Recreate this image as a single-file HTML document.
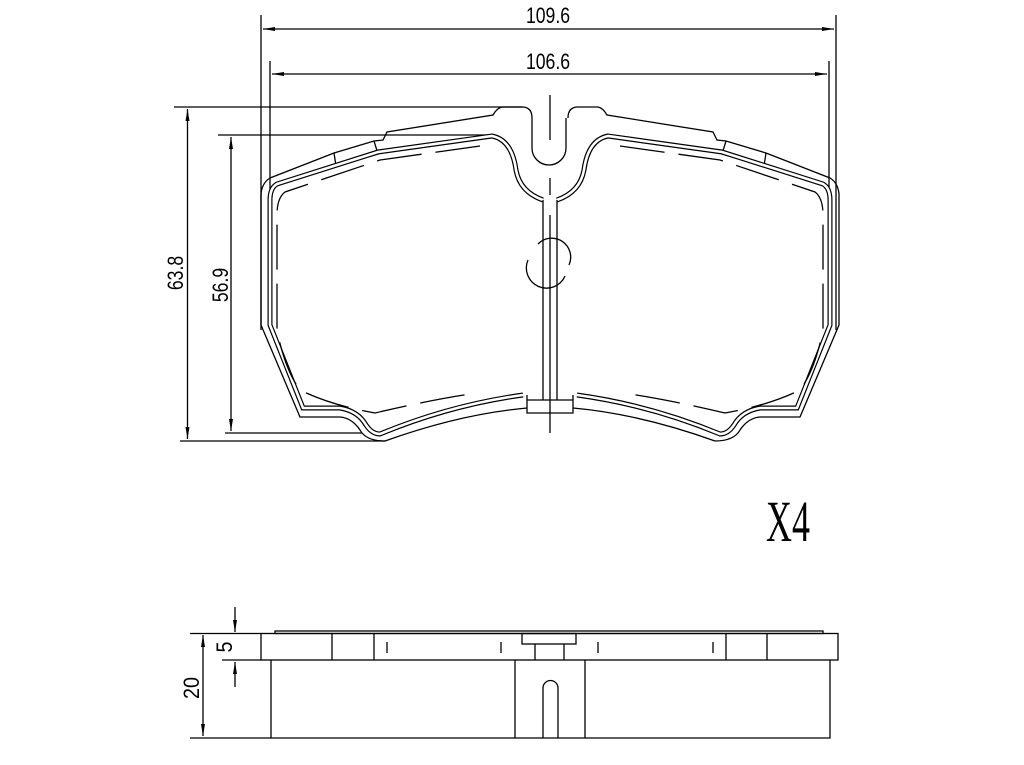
<!DOCTYPE html>
<html><head><meta charset="utf-8"><style>
html,body{margin:0;padding:0;background:#fff;}
svg{display:block;}
text{font-family:"Liberation Sans",sans-serif;fill:#000;}
</style></head><body>
<svg width="1024" height="765" viewBox="0 0 1024 765" xmlns="http://www.w3.org/2000/svg">
<defs>
<marker id="a" viewBox="0 0 12 4" refX="12" refY="2" markerWidth="12" markerHeight="4" markerUnits="userSpaceOnUse" orient="auto-start-reverse"><path d="M0,0 L12,2 L0,4 Z" fill="#000"/></marker>
</defs>
<g fill="none" stroke="#000" stroke-width="1.3">
<line x1="261" y1="15" x2="261" y2="330"/>
<line x1="836" y1="15" x2="836" y2="330"/>
<line x1="270" y1="61" x2="270" y2="200"/>
<line x1="829" y1="61" x2="829" y2="200"/>
<line x1="263" y1="29" x2="834" y2="29" marker-start="url(#a)" marker-end="url(#a)"/>
<line x1="272" y1="74" x2="827" y2="74" marker-start="url(#a)" marker-end="url(#a)"/>
<line x1="174" y1="107" x2="522" y2="107"/>
<line x1="218" y1="135" x2="490" y2="135"/>
<line x1="180" y1="441" x2="385" y2="441"/>
<line x1="225" y1="433" x2="362" y2="433"/>
<line x1="187.5" y1="109" x2="187.5" y2="439" marker-start="url(#a)" marker-end="url(#a)"/>
<line x1="231" y1="137" x2="231" y2="431" marker-start="url(#a)" marker-end="url(#a)"/>

<line x1="550" y1="95" x2="550" y2="140"/>
<line x1="550" y1="178" x2="550" y2="195"/>
<line x1="550" y1="215" x2="550" y2="433"/>

<path d="M532,118 L532,148 A17,17 0 0 0 566,148 L566,118"/>

<g id="half">
<path d="M532,118 Q532,107 522,107 L502,107 Q497,108 493,115 L387,132 L383,140 L374,141 L334,153 L270,178 Q262,183 261,194 L261,325 L300,417 L340,417 Q352,418 360,430 Q366,441 385,441 Q460,414 527,408"/>
<path d="M334,153 L336,166 L378,154 L374,141"/>
<path stroke-width="5" d="M543,200 Q520,192 516,170 Q512,140 492,136 L378,152 L277,184 Q270,188 270,200 L270,325 L303,408 L340,408 Q358,411 366,425 Q372,434 380,434 Q450,405 523,395"/>
<path stroke="#fff" stroke-width="2.6" d="M543,200 Q520,192 516,170 Q512,140 492,136 L378,152 L277,184 Q270,188 270,200 L270,325 L303,408 L340,408 Q358,411 366,425 Q372,434 380,434 Q450,405 523,395"/>
<path stroke-dasharray="45,14" d="M480,146 L380,160 L285,192 Q277,198 277,215 L277,330 Q285,370 300,390 Q330,405 375,413 Q430,400 470,394"/>
<line x1="543" y1="200" x2="543" y2="400"/>
</g>
<use href="#half" transform="translate(1100,0) scale(-1,1)"/>
<path d="M527,400 L527,413 L573,413 L573,400 Z"/>
<path d="M527,395 L527,400 M573,395 L573,400"/>
<path d="M538,244 A19,19 0 0 1 569,265"/>
<path d="M528,260 A19,19 0 0 0 565,276"/>

<rect x="275" y="631" width="548" height="2.5"/>
<rect x="261" y="633.5" width="577" height="26.5"/>
<line x1="332" y1="633.5" x2="332" y2="660"/>
<line x1="374" y1="633.5" x2="374" y2="660"/>
<line x1="726" y1="633.5" x2="726" y2="660"/>
<line x1="767" y1="633.5" x2="767" y2="660"/>
<rect x="522" y="633.5" width="54" height="10.5"/>
<line x1="535" y1="644" x2="535" y2="660"/>
<line x1="564" y1="644" x2="564" y2="660"/>
<line x1="387" y1="642" x2="387" y2="653"/>
<line x1="501" y1="642" x2="501" y2="653"/>
<line x1="598" y1="642" x2="598" y2="653"/>
<line x1="713" y1="642" x2="713" y2="653"/>
<path d="M271,660 L271,738 L830,738 L830,660"/>
<line x1="515" y1="660" x2="515" y2="738"/>
<line x1="585" y1="660" x2="585" y2="738"/>
<path d="M543,738 L543,688 A7.5,7.5 0 0 1 558,688 L558,738"/>
<line x1="190" y1="633.5" x2="261" y2="633.5"/>
<line x1="222" y1="660" x2="261" y2="660"/>
<line x1="190" y1="738" x2="271" y2="738"/>
<line x1="203" y1="635" x2="203" y2="736" marker-start="url(#a)" marker-end="url(#a)"/>
<line x1="235" y1="607" x2="235" y2="632" marker-end="url(#a)"/>
<line x1="235" y1="687" x2="235" y2="662" marker-end="url(#a)"/>
</g>
<g font-size="22">
<text transform="translate(548,23) scale(0.8,1)" text-anchor="middle">109.6</text>
<text transform="translate(548,69) scale(0.8,1)" text-anchor="middle">106.6</text>
<text transform="translate(183,273) rotate(-90) scale(0.8,1)" text-anchor="middle">63.8</text>
<text transform="translate(228,285) rotate(-90) scale(0.8,1)" text-anchor="middle">56.9</text>
<text transform="translate(199,688) rotate(-90) scale(0.9,1)" text-anchor="middle">20</text>
<text transform="translate(232,647) rotate(-90) scale(0.9,1)" text-anchor="middle">5</text>
</g>
<text transform="translate(766,541) scale(0.62,1)" style="font-family:'Liberation Serif',serif;font-size:58px;">X4</text>
</svg>
</body></html>
